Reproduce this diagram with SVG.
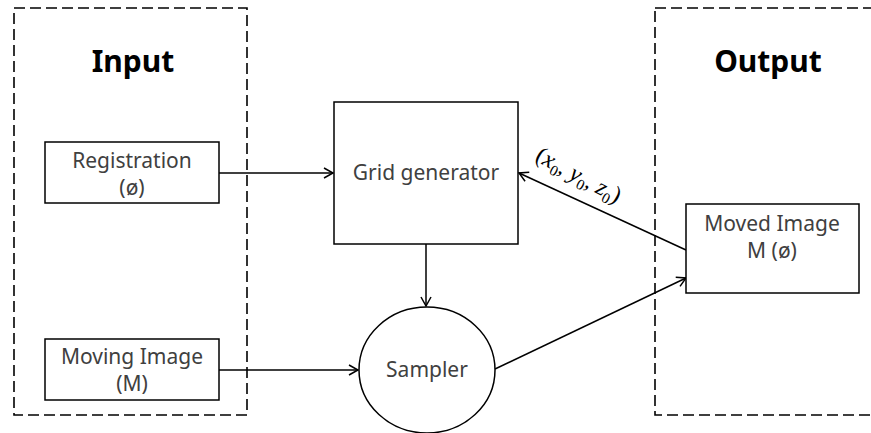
<svg xmlns="http://www.w3.org/2000/svg" width="871" height="433" viewBox="0 0 871 433">
  <defs>
    <marker id="arrow" markerWidth="12" markerHeight="12" refX="10" refY="6" orient="auto" markerUnits="userSpaceOnUse">
      <path d="M1,1 L10,6 L1,11" fill="none" stroke="#000" stroke-width="1.5"/>
    </marker>
    <style>
      .frame { fill: none; stroke: #000; stroke-width: 1.6; stroke-dasharray: 11 5; }
      .box { fill: #fff; stroke: #000; stroke-width: 1.5; }
      .title { font-family: "Noto Sans", "Open Sans", sans-serif; font-weight: bold; font-size: 30px; fill: #000; text-anchor: middle; }
      .lbl { font-family: "Noto Sans", "Open Sans", sans-serif; font-size: 21px; fill: #404040; text-anchor: middle; }
      .edge { fill: none; stroke: #000; stroke-width: 1.5; marker-end: url(#arrow); }
      .math { font-family: "Liberation Serif", "DejaVu Serif", serif; font-size: 24px; fill: #000; }
    </style>
  </defs>

  <rect width="871" height="433" fill="#fff"/>

  <!-- dashed frames -->
  <g id="input-frame">
    <rect class="frame" x="14" y="8" width="233" height="407"/>
    <text class="title" x="133" y="72">Input</text>
  </g>
  <g id="output-frame">
    <rect class="frame" x="655" y="8" width="240" height="407"/>
    <text class="title" x="768" y="72" font-size="31">Output</text>
  </g>

  <!-- connectors -->
  <g id="connectors">
    <line class="edge" x1="219" y1="173" x2="333" y2="173"/>
    <line class="edge" x1="219" y1="370" x2="358" y2="370"/>
    <line class="edge" x1="426" y1="244" x2="426" y2="306"/>
    <line class="edge" x1="495" y1="369" x2="686" y2="278"/>
    <line class="edge" x1="686" y1="250" x2="519" y2="173"/>
    <text class="math" transform="translate(534,160) rotate(28)">(<tspan font-style="italic">x</tspan><tspan font-size="15" dy="5">0</tspan><tspan dy="-5">, </tspan><tspan font-style="italic">y</tspan><tspan font-size="15" dy="5">0</tspan><tspan dy="-5">, </tspan><tspan font-style="italic">z</tspan><tspan font-size="15" dy="5">0</tspan><tspan dy="-5">)</tspan></text>
  </g>

  <g id="registration">
    <rect class="box" x="45" y="142" width="174" height="61"/>
    <text class="lbl" x="132" y="168">Registration</text>
    <text class="lbl" x="132" y="195">(ø)</text>
  </g>

  <g id="moving-image">
    <rect class="box" x="45" y="339" width="174" height="61"/>
    <text class="lbl" x="132" y="364">Moving Image</text>
    <text class="lbl" x="132" y="391">(M)</text>
  </g>

  <g id="grid-generator">
    <rect class="box" x="334" y="102" width="184" height="142"/>
    <text class="lbl" x="426" y="180" font-size="21.5">Grid generator</text>
  </g>

  <g id="sampler">
    <ellipse class="box" cx="427" cy="370" rx="68" ry="63"/>
    <text class="lbl" x="427" y="377" font-size="17.5">Sampler</text>
  </g>

  <g id="moved-image">
    <rect class="box" x="686" y="204" width="173" height="89"/>
    <text class="lbl" x="772" y="231">Moved Image</text>
    <text class="lbl" x="772" y="258">M (ø)</text>
  </g>
</svg>
